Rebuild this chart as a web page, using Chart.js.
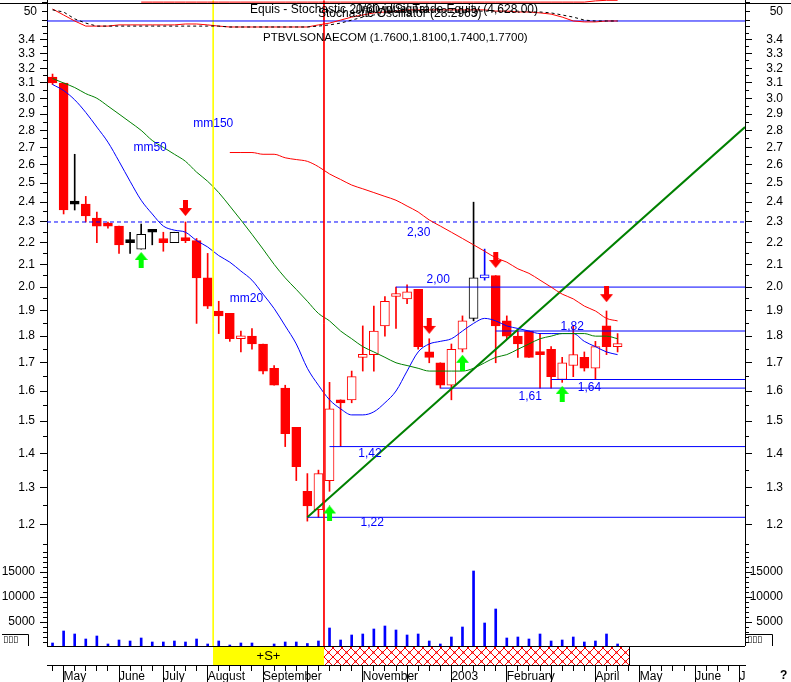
<!DOCTYPE html>
<html>
<head>
<meta charset="utf-8">
<script src="https://cdn.jsdelivr.net/npm/chart.js@4/dist/chart.umd.min.js"></script>
<style>
  html, body { margin: 0; padding: 0; background: #fff; }
</style>
</head>
<body>
<canvas id="myChart" width="791" height="682"></canvas>
<script>
// weekly bars, slot 0 = last week of April 2002, 63 slots on the axis
const openP  = [3.14,3.10,2.39,2.39,2.32,2.28,2.28,2.21,2.17,2.25,2.22,2.20,2.22,2.21,2.04,1.90,1.89,1.79,1.80,1.77,1.68,1.61,1.48,1.29,1.24,1.32,1.56,1.57,1.72,1.73,1.84,1.96,1.95,1.99,1.74,1.70,1.62,1.75,1.87,2.04,2.05,1.86,1.80,1.82,1.73,1.75,1.64,1.69,1.72,1.68,1.84,1.76];
const highP  = [3.16,3.10,2.66,2.43,2.35,2.30,2.28,2.25,2.29,2.26,2.25,2.25,2.30,2.22,2.15,1.94,1.89,1.82,1.83,1.77,1.69,1.62,1.48,1.34,1.35,1.63,1.57,1.67,1.84,1.92,1.96,2.00,2.01,1.99,1.79,1.70,1.77,1.88,2.40,2.17,2.05,1.88,1.82,1.82,1.81,1.76,1.72,1.84,1.74,1.78,1.90,1.81];
const lowP   = [3.09,2.34,2.36,2.30,2.20,2.27,2.15,2.15,2.17,2.19,2.16,2.20,2.20,1.85,1.91,1.81,1.78,1.74,1.75,1.66,1.62,1.42,1.32,1.21,1.22,1.29,1.42,1.56,1.67,1.67,1.80,1.83,1.93,1.75,1.70,1.61,1.57,1.74,1.86,2.03,1.70,1.79,1.72,1.72,1.61,1.61,1.63,1.65,1.67,1.64,1.73,1.74];
const closeP = [3.10,2.36,2.39,2.33,2.28,2.28,2.19,2.20,2.24,2.25,2.20,2.25,2.21,2.04,1.92,1.88,1.79,1.80,1.77,1.67,1.62,1.46,1.36,1.25,1.34,1.54,1.56,1.65,1.73,1.82,1.94,1.97,1.98,1.76,1.72,1.62,1.75,1.86,2.04,2.05,1.84,1.80,1.77,1.72,1.73,1.65,1.70,1.73,1.68,1.76,1.76,1.77];
const volume = [800,3200,2600,1600,2200,600,1400,1200,1800,1000,1000,1200,1000,1600,600,1200,400,800,800,0,600,1000,1000,700,1200,3800,1400,2400,2600,3600,4200,3400,2400,2600,1200,600,2000,4000,15200,4800,7600,1800,2000,1600,2600,1200,1400,2000,1000,1200,2600,600];
const blackBars = [2, 7, 8, 9, 11, 38];
const blueBars = [39];

// moving averages
const mm20  = [3.09,3.05,2.99,2.91,2.82,2.73,2.62,2.51,2.41,2.34,2.28,2.26,2.25,2.21,2.18,2.14,2.11,2.07,2.03,1.97,1.91,1.84,1.77,1.68,1.62,1.57,1.54,1.52,1.52,1.53,1.56,1.60,1.67,1.74,1.77,1.78,1.79,1.82,1.85,1.87,1.86,1.84,1.83,1.82,1.81,1.81,1.81,1.81,1.78,1.76,1.74,1.73];
const mm50  = [3.13,3.10,3.07,3.03,3.00,2.95,2.90,2.85,2.80,2.74,2.70,2.66,2.62,2.56,2.51,2.45,2.38,2.31,2.24,2.17,2.10,2.04,1.99,1.94,1.89,1.86,1.82,1.79,1.76,1.74,1.72,1.70,1.69,1.68,1.67,1.67,1.67,1.67,1.68,1.70,1.72,1.73,1.75,1.77,1.79,1.80,1.81,1.81,1.81,1.80,1.80,1.79];
const mm150 = [null,null,null,null,null,null,null,null,null,null,null,null,null,null,null,null,
  2.67,2.67,2.67,2.66,2.66,2.64,2.63,2.62,2.59,2.55,2.52,2.49,2.47,2.45,2.43,2.41,2.38,2.35,2.31,2.28,2.25,2.22,2.19,2.16,2.13,2.11,2.08,2.06,2.03,2.00,1.97,1.95,1.92,1.90,1.87,1.86];

// stochastic panel
const stochK = [60,40,20,3,3,3,7,7,7,7,7,7,10,10,7,3,0,0,0,0,0,0,0,0,7,13,23,33,40,47,50,53,57,57,57,57,57,57,57,57,53,53,50,50,47,43,33,20,17,17,20,20];
const stochD = [57,50,27,13,3,3,3,3,3,3,3,3,3,3,3,3,0,0,0,0,0,0,0,0,3,7,13,23,33,40,47,50,53,53,53,53,53,53,53,53,53,53,53,50,50,47,40,33,23,20,20,20];
const equity = [null,null,null,null,null,null,null,null,83,83,83,83,83,83,83,83,83,83,83,83,83,83,83,83,83,83,83,83,83,83,83,83,83,83,83,83,83,83,83,83,83,83,83,83,83,83,83,83,83,87,89,89];
const stochLevel = 20;

// drawn support / resistance
const levelPrice = [2.00, 1.82, 1.64, 1.61, 1.42, 1.22];
const levelFrom  = [31, 40, 45, 35, 25, 23];
const resistance = 2.30;
const trendX = [23, 62.5];
const trendY = [1.22, 2.82];

// signals
const sellX = [12, 34, 40, 50];
const sellY = [2.37, 1.84, 2.12, 1.97];
const buyX  = [8, 25, 37, 46];
const buyY  = [2.12, 1.23, 1.70, 1.59];

// marker lines and state ribbon
const markerX = [14.5, 24.5];
const ribbonEdges = [-0.5, 14.5, 24.5, 52];

// axes
const monthAt   = [1, 6, 10, 14, 19, 23, 28, 32, 36, 41, 45, 49, 53, 58, 62];
const monthName = ['May','June','July','August','September','','November','','2003','February','','April','May','June','J'];
const range = (a, b, s) => { const r = []; for (let v = a; v <= b; v += s) r.push(v); return r; };
const priceMajor = range(12, 34, 1).map(k => k / 10);
const priceMinor = range(23, 69, 1).map(k => k / 20);
const volMajor = [5000, 10000, 15000];
const volMinor = range(1000, 19000, 1000);
const stochTicks = [0, 20, 50, 80];

const notes = [
  { text: 'mm150', at: 12.7, price: 2.84 },
  { text: 'mm50', at: 7.3, price: 2.70 },
  { text: 'mm20', at: 16.0, price: 1.95 },
  { text: '2,30', at: 32.0, price: 2.25 },
  { text: '2,00', at: 33.75, price: 2.03 },
  { text: '1,82', at: 45.85, price: 1.835 },
  { text: '1,64', at: 47.4, price: 1.61 },
  { text: '1,61', at: 42.06, price: 1.58 },
  { text: '1,42', at: 27.6, price: 1.40 },
  { text: '1,22', at: 27.8, price: 1.205 }
];

const priceMin = 0.8884, priceMax = 3.7047;
const volMin = -3600, volMax = 129400;
const stoMin = -2126.67, stoMax = 90;

Chart.defaults.font.family = "'Liberation Sans', Arial, sans-serif";
Chart.defaults.font.size = 12;
Chart.defaults.color = '#000';

const ink = i => blackBars.includes(i) ? '#000000' : blueBars.includes(i) ? '#0000ff' : '#ff0000';
const bodyFill = i => closeP[i] > openP[i] ? '#ffffff' : ink(i);
const P = arr => arr.map((v, i) => (v == null ? null : { x: i, y: v })).filter(Boolean);
const seg = (from, to, v) => [{ x: from, y: v }, { x: to, y: v }];
const noClip = s => { s._computeLabelArea = () => undefined; };

function arrow(color, down) {
  const c = document.createElement('canvas');
  c.width = 13; c.height = 16;
  const g = c.getContext('2d');
  g.fillStyle = color;
  g.beginPath();
  if (down) {
    g.rect(4, 0, 5, 9);
    g.moveTo(0, 8); g.lineTo(13, 8); g.lineTo(6.5, 16);
  } else {
    g.moveTo(6.5, 0); g.lineTo(13, 8); g.lineTo(0, 8);
    g.rect(4, 7, 5, 9);
  }
  g.fill();
  return c;
}
const sellArrow = arrow('#ff0000', true);
const buyArrow = arrow('#00ff00', false);

const hatch = (() => {
  const c = document.createElement('canvas');
  c.width = 9; c.height = 9;
  const g = c.getContext('2d');
  g.fillStyle = '#fff'; g.fillRect(0, 0, 9, 9);
  g.strokeStyle = '#ff0000'; g.lineWidth = 1;
  g.beginPath(); g.moveTo(0, 0); g.lineTo(9, 9); g.moveTo(9, 0); g.lineTo(0, 9); g.stroke();
  g.fillStyle = '#ff0000';
  g.fillRect(3.5, 3.5, 2, 2);
  g.fillRect(0, 0, 1, 1); g.fillRect(8, 0, 1, 1); g.fillRect(0, 8, 1, 1); g.fillRect(8, 8, 1, 1);
  return c;
})();

function edge(pos, type, min, max, ticks, o = {}) {
  return {
    type, position: pos, min, max, display: true, weight: o.weight || 0,
    afterBuildTicks: s => { s.ticks = ticks.map(value => ({ value })); noClip(s); },
    afterFit: s => {
      s.width = o.width || 0;
      s.paddingTop = s.paddingBottom = s.paddingLeft = s.paddingRight = 0;
    },
    ticks: { autoSkip: false, padding: 5, crossAlign: o.far ? 'far' : 'near', color: '#000', callback: o.label || (() => '') },
    grid: { display: !!o.tick, drawTicks: !!o.tick, tickLength: o.tick || 0, drawOnChartArea: false, color: '#000', offset: false },
    border: { display: o.border !== false, color: '#000' }
  };
}

const line = { type: 'line', xAxisID: 'x', pointRadius: 0, borderWidth: 1, fill: false };

const datasets = [
  { type: 'bar', data: P(volume), xAxisID: 'x', yAxisID: 'yV', backgroundColor: '#0000ff', barThickness: 2, grouped: false, order: 20 },
  { type: 'bar', data: highP.map((h, i) => ({ x: i, y: [lowP[i], h] })), xAxisID: 'x', yAxisID: 'yP',
    backgroundColor: c => ink(c.dataIndex), barThickness: 1, grouped: false, order: 19 },
  { type: 'bar', data: openP.map((o, i) => ({ x: i, y: [o, closeP[i]] })), xAxisID: 'x', yAxisID: 'yP',
    backgroundColor: c => bodyFill(c.dataIndex), borderColor: c => ink(c.dataIndex), borderWidth: 1,
    borderSkipped: false, barThickness: 9, minBarLength: 3, grouped: false, order: 18 }
];
levelPrice.forEach((p, k) => datasets.push({ ...line, data: seg(levelFrom[k], 62.5, p), yAxisID: 'yP', borderColor: '#0000ff', order: 10 }));
datasets.push(
  { ...line, data: seg(-0.5, 62.5, resistance), yAxisID: 'yP', borderColor: '#0000ff', borderDash: [4, 3], order: 10 },
  { ...line, data: trendX.map((x, i) => ({ x, y: trendY[i] })), yAxisID: 'yP', borderColor: '#008000', borderWidth: 2, order: 9 },
  { ...line, data: P(mm150), yAxisID: 'yP', borderColor: '#ff0000', cubicInterpolationMode: 'monotone', order: 8 },
  { ...line, data: P(mm50), yAxisID: 'yP', borderColor: '#008000', cubicInterpolationMode: 'monotone', order: 8 },
  { ...line, data: P(mm20), yAxisID: 'yP', borderColor: '#0000ff', cubicInterpolationMode: 'monotone', order: 8 },
  { ...line, data: [{ x: markerX[0], y: 3.70 }, { x: markerX[0], y: 0.925 }], yAxisID: 'yP', borderColor: '#ffff00', order: 7 },
  { ...line, data: [{ x: markerX[1], y: 3.70 }, { x: markerX[1], y: 0.925 }], yAxisID: 'yP', borderColor: '#ff0000', order: 7 },
  { ...line, data: seg(-0.5, 62.5, stochLevel), yAxisID: 'yS', borderColor: '#0000ff', order: 6 },
  { ...line, data: P(equity), yAxisID: 'yS', borderColor: '#ff0000', order: 6 },
  { ...line, data: P(stochK), yAxisID: 'yS', borderColor: '#ff0000', order: 5 },
  { ...line, data: P(stochD), yAxisID: 'yS', borderColor: '#000000', borderDash: [3, 3], order: 4 },
  { type: 'line', showLine: false, xAxisID: 'x', yAxisID: 'yP', data: sellX.map((x, i) => ({ x, y: sellY[i] })), pointStyle: sellArrow, pointRadius: 6, order: 1 },
  { type: 'line', showLine: false, xAxisID: 'x', yAxisID: 'yP', data: buyX.map((x, i) => ({ x, y: buyY[i] })), pointStyle: buyArrow, pointRadius: 6, order: 1 }
);

const decor = {
  id: 'decor',
  afterDatasetsDraw(chart) {
    const { ctx, chartArea: a, scales: { x, yP, yV } } = chart;
    ctx.save();
    ctx.font = "12px 'Liberation Sans'";
    ctx.fillStyle = '#0000ff';
    ctx.textBaseline = 'middle';
    ctx.textAlign = 'left';
    notes.forEach(n => ctx.fillText(n.text, x.getPixelForValue(n.at), yP.getPixelForValue(n.price)));

    // state ribbon under the volume
    const top = Math.round(yV.getPixelForValue(0)) - 1;
    const bot = a.bottom;
    const px = ribbonEdges.map(v => Math.round(x.getPixelForValue(v)));
    ctx.fillStyle = '#fff'; ctx.fillRect(a.left, top, a.right - a.left + 2, bot - top);
    ctx.fillStyle = '#ffff00'; ctx.fillRect(px[1], top, px[2] - px[1], bot - top);
    ctx.fillStyle = ctx.createPattern(hatch, 'repeat'); ctx.fillRect(px[2], top, px[3] - px[2], bot - top);
    ctx.strokeStyle = '#000'; ctx.lineWidth = 1;
    ctx.beginPath();
    ctx.moveTo(a.left, top + 0.5); ctx.lineTo(a.right, top + 0.5);
    ctx.moveTo(px[3] + 0.5, top); ctx.lineTo(px[3] + 0.5, bot);
    ctx.stroke();
    ctx.fillStyle = '#000'; ctx.textAlign = 'center'; ctx.font = "13px 'Liberation Sans'";
    ctx.fillText('+S+', (px[1] + px[2]) / 2, (top + bot) / 2 + 1);
    ctx.restore();
  },
  afterDraw(chart) {
    const { ctx } = chart;
    ctx.save();
    ctx.fillStyle = '#000';
    ctx.fillRect(0, 3, 791, 1);
    ctx.font = "12px 'Liberation Sans'";
    ctx.textBaseline = 'middle';
    ctx.textAlign = 'left';
    ctx.fillText('Equis - Stochastic 20/60 w/Signal', 250, 10);
    ctx.fillText('Stochastic Oscillator (28.2963)', 318, 14);
    ctx.textAlign = 'right';
    ctx.fillText('Individual Trade Equity (4,628.00)', 538, 10);
    ctx.textAlign = 'left';
    ctx.font = "11.5px 'Liberation Sans'";
    ctx.fillText('PTBVLSONAECOM (1.7600,1.8100,1.7400,1.7700)', 263, 38);

    // volume multiplier boxes
    ctx.font = "9px 'DejaVu Sans'";
    ctx.fillText('\u25AF\u25AF\u25AF', 3, 640);
    ctx.fillText('\u25AF\u25AF\u25AF', 747, 640);
    ctx.strokeStyle = '#000'; ctx.lineWidth = 1;
    ctx.beginPath();
    ctx.moveTo(2, 634.5); ctx.lineTo(28.5, 634.5); ctx.lineTo(28.5, 646);
    ctx.moveTo(745, 634.5); ctx.lineTo(772.5, 634.5); ctx.lineTo(772.5, 646);
    ctx.stroke();
    ctx.font = "bold 12px 'Liberation Sans'";
    ctx.fillText('?', 780, 676);
    ctx.restore();
  }
};

new Chart(document.getElementById('myChart'), {
  type: 'bar',
  data: { datasets },
  options: {
    responsive: false,
    animation: false,
    devicePixelRatio: 1,
    events: [],
    layout: { padding: { left: 0, right: 8, top: 0, bottom: 0 }, autoPadding: false },
    plugins: { legend: { display: false }, tooltip: { enabled: false } },
    scales: {
      x: {
        type: 'linear', position: 'bottom', min: -0.5, max: 62.5, weight: 1, offset: false,
        afterBuildTicks: s => { s.ticks = range(0, 62, 1).map(value => ({ value })); },
        afterFit: s => { s.height = 17; s.paddingLeft = s.paddingRight = s.paddingTop = s.paddingBottom = 0; },
        ticks: { autoSkip: false, maxRotation: 0, minRotation: 0, callback: () => '' },
        grid: { drawOnChartArea: false, tickLength: 6, color: '#000', offset: false },
        border: { color: '#000' }
      },
      xm: {
        type: 'linear', position: 'bottom', min: -0.5, max: 62.5, weight: 0, offset: false, display: true,
        afterBuildTicks: s => { s.ticks = monthAt.map(value => ({ value })); noClip(s); },
        afterFit: s => { s.height = 0; s.paddingLeft = s.paddingRight = s.paddingTop = s.paddingBottom = 0; },
        ticks: { autoSkip: false, maxRotation: 0, minRotation: 0, align: 'start', padding: -13, color: '#000',
                 callback: v => monthName[monthAt.indexOf(v)] || '' },
        grid: { drawOnChartArea: false, tickLength: 17, color: '#000', offset: false },
        border: { display: false }
      },
      yP:   edge('left', 'logarithmic', priceMin, priceMax, priceMajor, { weight: 1, width: 47, tick: 7, label: v => v.toFixed(1) }),
      yPm:  edge('left', 'logarithmic', priceMin, priceMax, priceMinor, { tick: 4 }),
      yV:   edge('left', 'linear', volMin, volMax, volMajor, { tick: 7, label: v => String(v) }),
      yVm:  edge('left', 'linear', volMin, volMax, volMinor, { tick: 4 }),
      yS:   edge('left', 'linear', stoMin, stoMax, stochTicks, { tick: 5, label: v => (v === 50 ? '50' : '') }),
      yPR:  edge('right', 'logarithmic', priceMin, priceMax, priceMajor, { weight: 1, width: 38, tick: 7, far: true, label: v => v.toFixed(1) }),
      yPRm: edge('right', 'logarithmic', priceMin, priceMax, priceMinor, { tick: 4 }),
      yVR:  edge('right', 'linear', volMin, volMax, volMajor, { tick: 7 }),
      yVRm: edge('right', 'linear', volMin, volMax, volMinor, { tick: 4 }),
      ySR:  edge('right', 'linear', stoMin, stoMax, stochTicks, { tick: 5 }),
      yVRl: edge('right', 'linear', volMin, volMax, volMajor, { weight: 2, far: true, border: false, label: v => String(v) }),
      ySRl: edge('right', 'linear', stoMin, stoMax, [50], { weight: 2, far: true, border: false, label: () => '50' })
    }
  },
  plugins: [decor]
});
</script>
</body>
</html>
